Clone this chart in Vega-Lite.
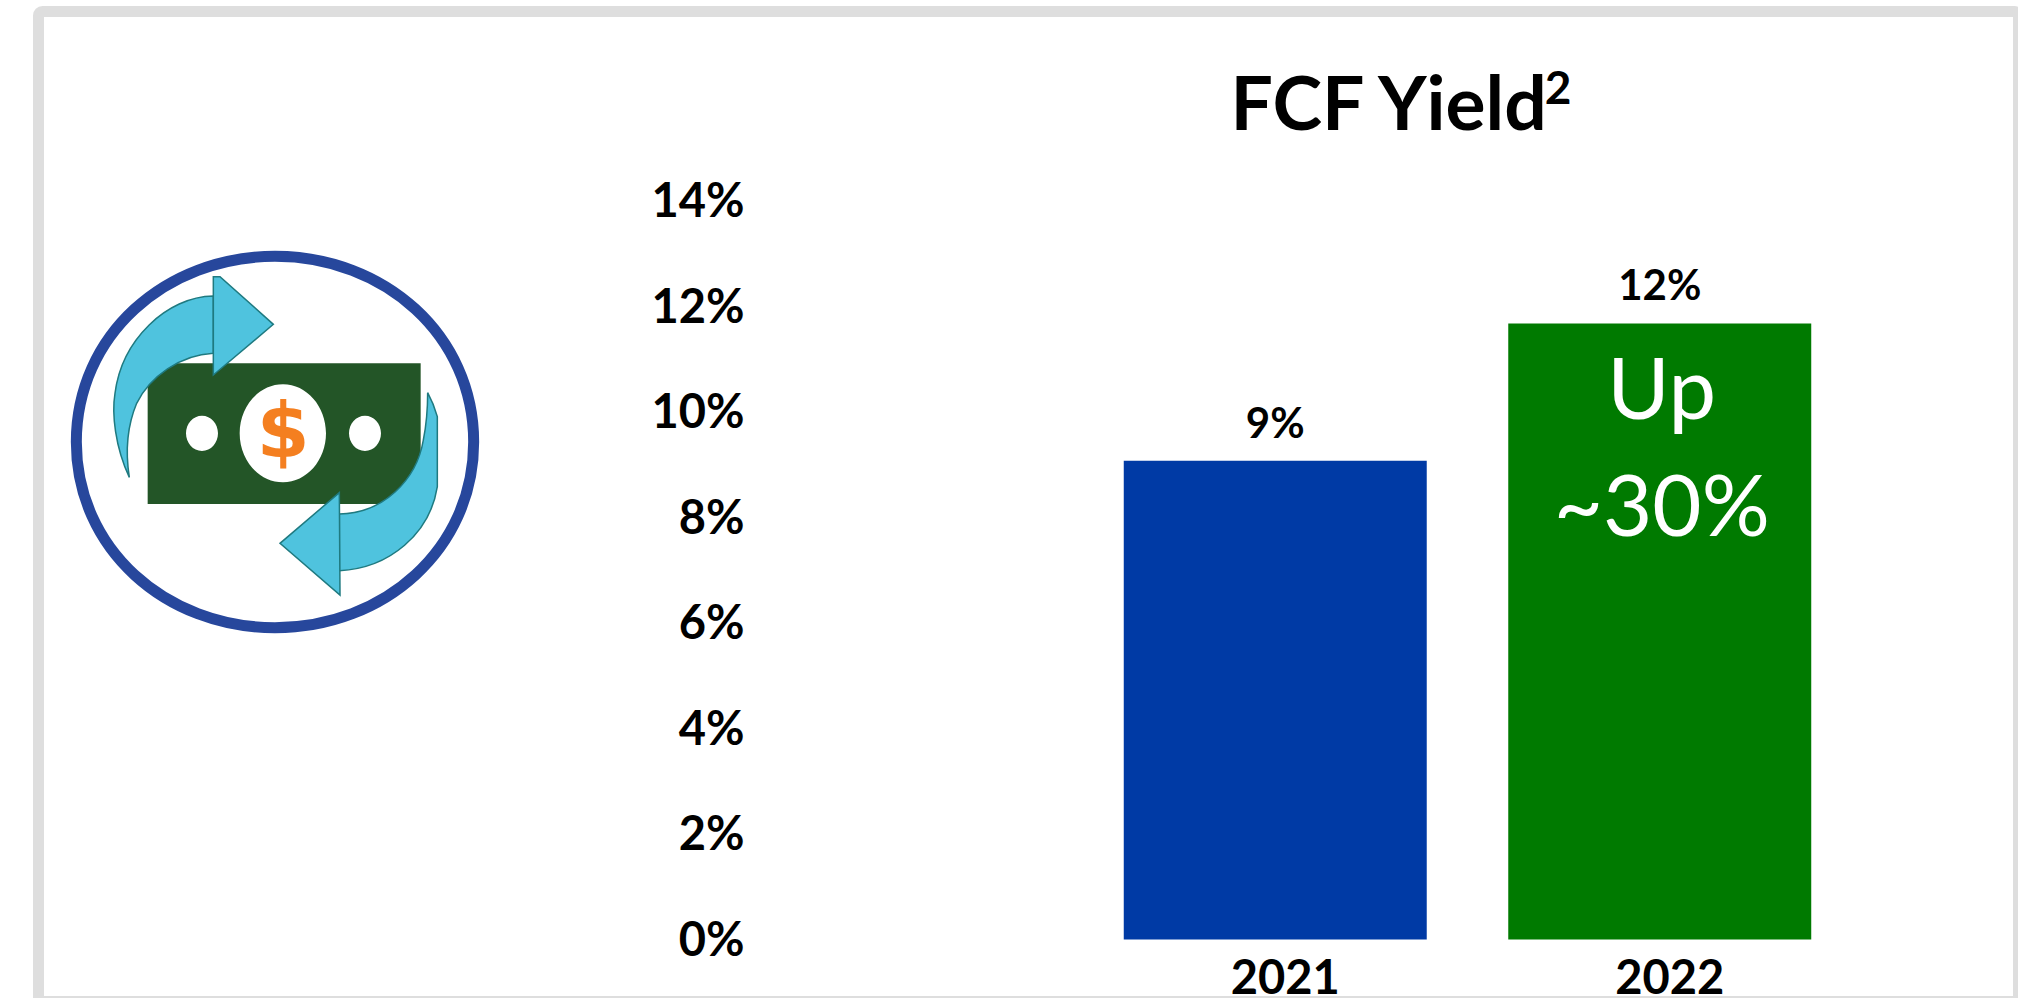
{
"$schema":"https://vega.github.io/schema/vega-lite/v6.json",
"autosize":{"type":"none"},
"padding":{"left":38.5,"top":11.5,"right":0,"bottom":0},
"width":1980,
"height":990,
"background":"white",
"view":{"stroke":"#dedede","strokeWidth":11,"fill":"white","cornerRadius":4},
"title":{"text":"FCF Yield","anchor":"start","frame":"group","font":"Lato","fontWeight":"bold","fontSize":75,"color":"#000000","dx":1192,"dy":193,"baseline":"alphabetic","offset":0},
"datasets":{
"bars":[{"year":"2021","value":9.07,"label":"9%"},{"year":"2022","value":11.67,"label":"12%"}],
"note":[{"year":"2022","pos":10.35,"text":"Up"},{"year":"2022","pos":8.13,"text":"~30%"}],
"icon":[{"part":"icon","ix":0,"iy":200}],
"dollar":[{"ix":283.3,"iy":434,"text":"$"}],
"sup":[{"ix":1558,"iy":90,"text":"2"}]
},
"layer":[
{"layer":[
{"data":{"name":"bars"},
"mark":{"type":"bar"},
"encoding":{
"x":{"field":"year","type":"nominal","scale":{"domain":["2021","2022"],"range":[1044.5,1813.5],"paddingInner":0.212,"paddingOuter":0.106},
"axis":{"title":null,"orient":"bottom","offset":-22,"domain":false,"ticks":false,"labelAngle":0,"labelFont":"Lato","labelFontWeight":"bold","labelFontSize":47,"labelColor":"#000000","labelOffset":10,"labelPadding":0,"labelBaseline":"middle","grid":false}},
"y":{"field":"value","type":"quantitative","scale":{"domain":[0,14],"range":[928,189],"nice":false},
"axis":{"title":null,"orient":"left","offset":-705.5,"domain":false,"ticks":false,"grid":false,"values":[0,2,4,6,8,10,12,14],"labelExpr":"datum.value + '%'","labelFont":"Lato","labelFontWeight":"bold","labelFontSize":47,"labelColor":"#000000","labelPadding":0,"labelBaseline":"middle","labelFlush":false,"labelOffset":2}},
"color":{"field":"year","type":"nominal","scale":{"domain":["2021","2022"],"range":["#003aa5","#007a00"]},"legend":null}
}},
{"data":{"name":"bars"},
"mark":{"type":"text","font":"Lato","fontWeight":"bold","fontSize":42,"color":"#000000","baseline":"bottom","dy":-14},
"encoding":{
"x":{"field":"year","type":"nominal"},
"y":{"field":"value","type":"quantitative"},
"text":{"field":"label"}}},
{"data":{"name":"note"},
"mark":{"type":"text","font":"Lato","fontSize":85,"color":"#ffffff","baseline":"middle","dx":2},
"encoding":{
"x":{"field":"year","type":"nominal"},
"y":{"field":"pos","type":"quantitative"},
"text":{"field":"text"}}}
]},
{"data":{"name":"icon"},
"encoding":{
"x":{"field":"ix","type":"quantitative","axis":null,"scale":{"domain":[38.5,2018.5],"range":[0,1980],"nice":false,"zero":false}},
"y":{"field":"iy","type":"quantitative","axis":null,"scale":{"domain":[11.5,1001.5],"range":[0,990],"nice":false,"zero":false}}
},
"layer":[
{"mark":{"type":"point","filled":false,"fill":"transparent","opacity":1,"size":0.44444,"stroke":"#27479c","strokeWidth":11,"shape":"M229,726 C229,406 496,169 825,169 C1154,169 1421,406 1421,726 C1421,1046 1154,1283 825,1283 C496,1283 229,1046 229,726 Z"}},
{"mark":{"type":"point","filled":true,"opacity":1,"size":0.44444,"fill":"#235527","stroke":null,"shape":"M443,490 L1262,490 L1262,912 L443,912 Z"}},
{"mark":{"type":"point","filled":true,"opacity":1,"size":0.44444,"fill":"#ffffff","stroke":null,"shape":"M719,700 C719,619 777,553 849,553 C920,553 978,619 978,700 C978,781 920,847 849,847 C777,847 719,781 719,700 Z M558,700 C558,671 579,647 606,647 C633,647 654,671 654,700 C654,729 633,753 606,753 C579,753 558,729 558,700 Z M1047,700 C1047,671 1068,647 1095,647 C1122,647 1143,671 1143,700 C1143,729 1122,753 1095,753 C1068,753 1047,729 1047,700 Z"}},
{"data":{"name":"dollar"},"mark":{"type":"text","font":"DejaVu Sans","fontWeight":"bold","fontSize":76,"color":"#f47f20","baseline":"middle"},"encoding":{"text":{"field":"text"}}},
{"mark":{"type":"point","filled":true,"opacity":1,"size":0.44444,"fill":"#4fc3de","stroke":"#1f7a80","strokeWidth":1.5,"shape":"M388,832 C345,740 335,640 345,580 C365,420 500,290 640,288 L640,460 C540,465 450,530 410,610 C385,670 375,750 388,832 Z"}},
{"mark":{"type":"point","filled":true,"opacity":1,"size":0.44444,"fill":"#4fc3de","stroke":"#1f7a80","strokeWidth":1.5,"shape":"M640,230 L660,230 L820,373 L640,525 Z"}},
{"mark":{"type":"point","filled":true,"opacity":1,"size":0.44444,"fill":"#4fc3de","stroke":"#1f7a80","strokeWidth":1.5,"shape":"M1283,578 C1295,600 1305,625 1312,650 L1312,860 C1290,1000 1170,1105 1018,1112 L1018,942 C1150,940 1250,840 1270,720 C1280,670 1283,620 1283,578 Z"}},
{"mark":{"type":"point","filled":true,"opacity":1,"size":0.44444,"fill":"#4fc3de","stroke":"#1f7a80","strokeWidth":1.5,"shape":"M1018,878 L840,1030 L1020,1185 Z"}},
{"data":{"name":"sup"},"mark":{"type":"text","font":"Lato","fontWeight":"bold","fontSize":46,"color":"#000000","baseline":"middle"},"encoding":{"text":{"field":"text"}}}
]}
],
"resolve":{"scale":{"x":"independent","y":"independent"},"axis":{"x":"independent","y":"independent"}}
}
